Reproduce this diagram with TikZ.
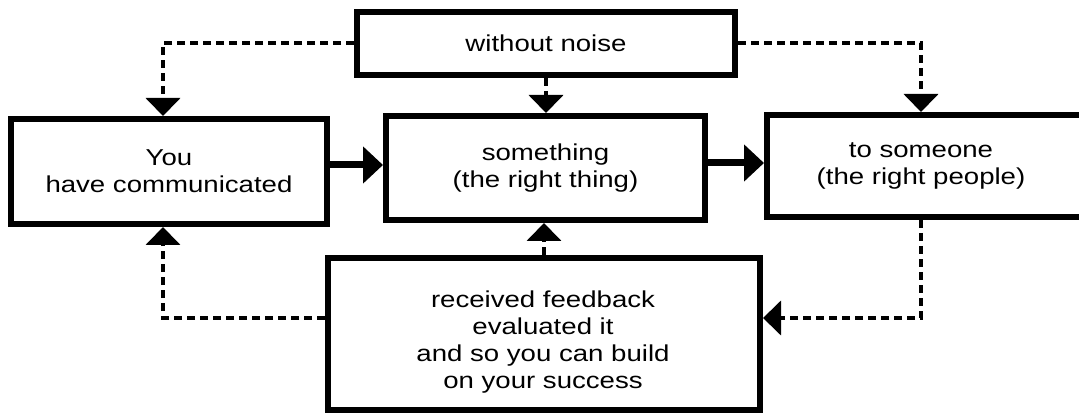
\documentclass[tikz,border=0pt]{standalone}
\usepackage{fontspec}
\setmainfont{Liberation Sans}[FakeStretch=1.2]
\usetikzlibrary{arrows.meta}
\begin{document}
\begin{tikzpicture}[x=1pt,y=-1pt,
  box/.style={draw, line width=6pt, rectangle, inner sep=0pt},
  lbl/.style={font=\fontsize{23}{27}\selectfont, align=center, inner sep=0pt},
  solidarrow/.style={line width=7pt, -{Triangle[length=20pt,width=36pt]}},
  dasharrow/.style={line width=4pt, dash pattern=on 8pt off 5pt, -{Triangle[length=18pt,width=34pt]}}]
\clip (0,0) rectangle (1079,414);
\fill[white] (0,0) rectangle (1079,414);
% boxes
\node[box, lbl, minimum width=378pt, minimum height=63pt] (noise) at (546,43.5) {without noise};
\node[box, lbl, minimum width=316pt, minimum height=105pt] (you) at (169,171.5) {You\\have communicated};
\node[box, lbl, minimum width=319pt, minimum height=104pt] (mid) at (545.5,168) {something\\(the right thing)};
\node[box, minimum width=323pt, minimum height=102pt] (right) at (928.5,166) {};
\node[lbl] (righttext) at (921,166) {to someone\\(the right people)};
\node[box, minimum width=432pt, minimum height=152pt] (fb) at (544,334) {};
\node[lbl] (fbtext) at (543,342) {received feedback\\evaluated it\\and so you can build\\on your success};
% solid arrows
\draw[solidarrow] ([yshift=6.5pt]you.east) -- ([yshift=6.5pt]you.east -| mid.west);
\draw[solidarrow] ([yshift=5pt]mid.east) -- ([yshift=5pt]mid.east -| right.west);
% dashed arrows from noise
\draw[dasharrow] (noise.west) -| ([xshift=-6pt]you.north);
\draw[dasharrow] (noise.south) -- (noise.south |- mid.north);
\draw[dasharrow] (noise.east) -| ([xshift=-7.5pt]right.north);
% feedback arrows
\draw[dasharrow] ([yshift=16pt]fb.west) -| ([xshift=-6pt]you.south);
\draw[dasharrow] (fb.north) -- (fb.north |- mid.south);
\draw[dasharrow] ([xshift=-7.5pt]right.south) |- ([yshift=16pt]fb.east);
\end{tikzpicture}
\end{document}
